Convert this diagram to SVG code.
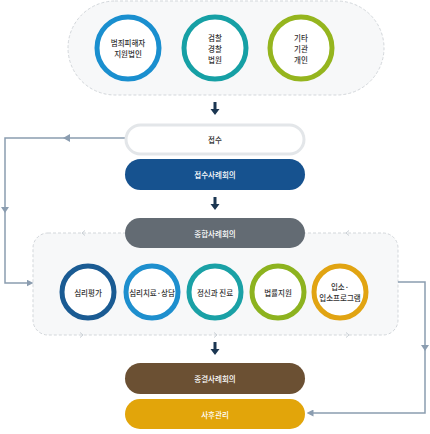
<svg xmlns="http://www.w3.org/2000/svg" width="430" height="434" viewBox="0 0 430 434">
<style>
text{font-family:"Noto Sans CJK KR","Noto Sans",sans-serif;font-size:7.5px;font-weight:500;text-anchor:middle;dominant-baseline:central}
.dark{fill:#333}
.wt{fill:#fff}
.ring{fill:#fff;stroke-width:5}
.box{stroke:none}
.cont{fill:#f7f8f9;stroke:#d3d7db;stroke-width:1;stroke-dasharray:3 2}
.conn{fill:none;stroke:#8b9db0;stroke-width:1.5}
.chev{fill:none;stroke:#c9cfd5;stroke-width:1}
.down{fill:#1b3652}
</style>
<defs>
<marker id="tri" viewBox="0 0 10 10" refX="5" refY="5" markerWidth="7" markerHeight="7" orient="auto-start-reverse" markerUnits="userSpaceOnUse"><path d="M0,0 L10,5 L0,10 z" fill="#8b9db0"/></marker>
</defs>

<g id="top-container">
<rect class="cont" x="68" y="1" width="316" height="94" rx="47"/>
</g>
<g id="n-victim"><circle class="ring" cx="128" cy="48" r="31" stroke="#1a8fcf"/><text class="dark" x="128" y="42">범죄피해자</text><text class="dark" x="128" y="53">지원법인</text></g>
<g id="n-police"><circle class="ring" cx="215" cy="48" r="31" stroke="#16a0a5"/><text class="dark" x="215" y="37">검찰</text><text class="dark" x="215" y="48">경찰</text><text class="dark" x="215" y="59">법원</text></g>
<g id="n-other"><circle class="ring" cx="301" cy="48" r="31" stroke="#95b51e"/><text class="dark" x="301" y="37">기타</text><text class="dark" x="301" y="48">기관</text><text class="dark" x="301" y="59">개인</text></g>

<g id="mid-container">
<rect class="cont" x="33" y="233" width="365" height="102" rx="15"/>
</g>

<g id="connectors">
<path class="down" d="M213.5,102 h3 v7 h3 l-4.5,6 l-4.5,-6 h3 z"/>
<path class="down" d="M213.5,197 h3 v7 h3 l-4.5,6 l-4.5,-6 h3 z"/>
<path class="down" d="M213.5,342 h3 v7 h3 l-4.5,6 l-4.5,-6 h3 z"/>
<polyline class="conn" points="125,138 5,138 5,283 30,283" marker-end="url(#tri)"/>
<path d="M63,138 l7,-4 v8 z" fill="#8b9db0"/>
<path d="M5,213 l-4,-6 h8 z" fill="#8b9db0"/>
<polyline class="conn" points="398,282 425,282 425,413 310,413" marker-end="url(#tri)"/>
<path d="M425,351 l-4,-6 h8 z" fill="#8b9db0"/>
<path class="chev" d="M85,230.5 l-3,2.5 l3,2.5"/>
<path class="chev" d="M349,230.5 l-3,2.5 l3,2.5"/>
<path class="chev" d="M80,332.5 l3,2.5 l-3,2.5"/>
<path class="chev" d="M214,332.5 l3,2.5 l-3,2.5"/>
<path class="chev" d="M346,332.5 l3,2.5 l-3,2.5"/>
</g>

<g id="n-receipt"><rect x="126" y="125" width="178" height="29" rx="14.5" fill="#fff" stroke="#e3e6e9" stroke-width="3"/><text class="dark" x="215" y="139.5">접수</text></g>
<g id="n-receipt-meeting"><rect class="box" x="125" y="159" width="180" height="31" rx="15.5" fill="#16528f"/><text class="wt" x="215" y="174.5">접수사례회의</text></g>
<g id="n-general-meeting"><rect class="box" x="125" y="218" width="180" height="30" rx="15" fill="#636b73"/><text class="wt" x="215" y="233">종합사례회의</text></g>

<g id="n-eval"><circle class="ring" cx="88" cy="292" r="26" stroke="#1a5b93"/><text class="dark" x="88" y="292">심리평가</text></g>
<g id="n-therapy"><circle class="ring" cx="152" cy="292" r="26" stroke="#1e8fce"/><text class="dark" x="152" y="292">심리치료·상담</text></g>
<g id="n-psych"><circle class="ring" cx="215" cy="292" r="26" stroke="#1aa1a6"/><text class="dark" x="215" y="292">정신과 진료</text></g>
<g id="n-legal"><circle class="ring" cx="278" cy="292" r="26" stroke="#8db31f"/><text class="dark" x="278" y="292">법률지원</text></g>
<g id="n-admit"><circle class="ring" cx="340" cy="292" r="26" stroke="#e1a412"/><text class="dark" x="340" y="286">입소·</text><text class="dark" x="340" y="297">입소프로그램</text></g>

<g id="n-close-meeting"><rect class="box" x="125" y="363" width="180" height="31" rx="15.5" fill="#6b5033"/><text class="wt" x="215" y="378.5">종결사례회의</text></g>
<g id="n-aftercare"><rect class="box" x="125" y="399" width="180" height="30" rx="15" fill="#e2a50a"/><text class="wt" x="215" y="414">사후관리</text></g>
</svg>
